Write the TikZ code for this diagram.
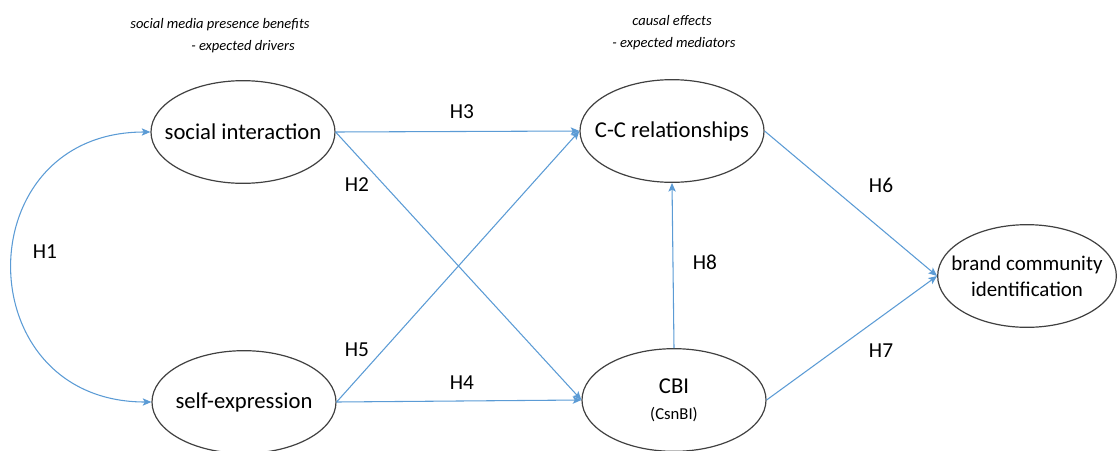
\documentclass[tikz,border=0pt]{standalone}
\usepackage{fontspec}
\setmainfont{Carlito}
\usetikzlibrary{shapes.geometric,arrows.meta}

\definecolor{hypblue}{RGB}{91,155,213}
\definecolor{rimgray}{RGB}{64,64,64}

\tikzset{every picture/.style={line width=0.75pt}}
\tikzset{
  construct/.style={ellipse, draw=rimgray, line width=0.9pt,
    inner xsep=-45pt, inner ysep=-15pt,
    minimum width=138pt, minimum height=77pt, align=center,
    font=\fontsize{17}{19.5}\selectfont},
  hyp/.style={draw=hypblue, line width=0.8pt, ->},
  hlabel/.style={inner sep=0pt, font=\fontsize{16}{19}\selectfont},
  heading/.style={inner sep=0pt, font=\fontsize{10.9}{13}\selectfont\itshape}
}

\begin{document}
\begin{tikzpicture}[x=0.75pt,y=0.75pt,yscale=-1,xscale=1,
  >={Stealth[length=6.5pt,width=5.5pt,inset=1.5pt]}]

\useasboundingbox (0,0) rectangle (1120,450);

\node [heading] (drvA) at (220,25) {social media presence benefits};
\node [heading] (drvB) at (243,47) {- expected drivers};
\node [heading] (medA) at (672,21) {causal effects};
\node [heading] (medB) at (674,44) {- expected mediators};

\node [construct] (si)  at (243,132) {social interaction};
\node [construct] (se)  at (244,402) {self-expression};
\node [construct] (cc)  at (672,131) {C-C relationships};
\node [construct] (cbi) at (674,400) {CBI\\[0pt]{\fontsize{12.5}{14}\selectfont(CsnBI)}};
\node [construct, minimum width=134pt, font=\fontsize{15.7}{19.5}\selectfont] (bci) at (1027,276) {brand community\\identification};

\draw [hyp, <->] (si.west) to [out=180,in=180,looseness=1.75] (se.west);
\draw [hyp] (si.east) -- (cc.west);
\draw [hyp] (si.east) -- (cbi.west);
\draw [hyp] (se.east) -- (cc.west);
\draw [hyp] (se.east) -- (cbi.west);
\draw [hyp] (cc.east) -- (bci.west);
\draw [hyp] (cbi.east) -- (bci.west);
\draw [hyp] (cbi.north) -- (cc.south);

\node [hlabel] (h1) at (45,252) {H1};
\node [hlabel] (h2) at (357,185) {H2};
\node [hlabel] (h3) at (462,112) {H3};
\node [hlabel] (h4) at (462,383) {H4};
\node [hlabel] (h5) at (357,350) {H5};
\node [hlabel] (h6) at (881,185) {H6};
\node [hlabel] (h7) at (881,351) {H7};
\node [hlabel] (h8) at (705,262) {H8};

\end{tikzpicture}
\end{document}
